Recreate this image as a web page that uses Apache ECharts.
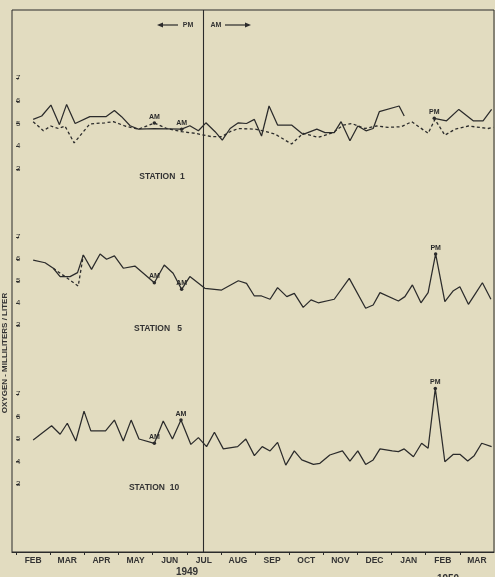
<!DOCTYPE html>
<html>
<head>
<meta charset="utf-8">
<title>Dissolved oxygen, stations 1, 5 and 10, 1949-1950</title>
<script src="https://cdn.jsdelivr.net/npm/echarts@6/dist/echarts.min.js"></script>
<style>
  html, body { margin: 0; padding: 0; background: #e2dcc0; }
  #chart { width: 495px; height: 577px; }
</style>
</head>
<body>
<div id="chart"></div>
<script>
// Month labels along the time axis (Feb 1949 .. Mar 1950); x is months since 1 Feb 1949
const monthLabels = ['FEB', 'MAR', 'APR', 'MAY', 'JUN', 'JUL', 'AUG', 'SEP', 'OCT', 'NOV', 'DEC', 'JAN', 'FEB', 'MAR'];
const yTicks = [3, 4, 5, 6, 7];
const shiftMonth = 5.47;   // sampling moved from afternoon (PM) to morning (AM)

// Station 1 — solid and dashed records, [month, ml O2 per litre]
const st1Solid = [
  [0.50, 5.18], [0.75, 5.33], [1.02, 5.81], [1.27, 4.95], [1.48, 5.84], [1.73, 5.00],
  [2.16, 5.30], [2.63, 5.30], [2.88, 5.57], [3.09, 5.30], [3.34, 4.90], [3.58, 4.75],
  [4.05, 4.78], [4.85, 4.75], [5.09, 4.90], [5.34, 4.68], [5.56, 5.03], [5.83, 4.64],
  [6.04, 4.27], [6.27, 4.78], [6.51, 5.03], [6.75, 5.00], [6.98, 5.18], [7.19, 4.45],
  [7.41, 5.77], [7.66, 4.93], [8.07, 4.93], [8.41, 4.52], [8.81, 4.75], [9.05, 4.60],
  [9.32, 4.60], [9.52, 5.08], [9.78, 4.24], [10.01, 4.89], [10.25, 4.68], [10.46, 4.78],
  [10.64, 5.52], [11.22, 5.77], [11.37, 5.33], [11.80, null],
  [12.25, 5.23], [12.61, 5.12], [12.97, 5.62], [13.39, 5.12], [13.68, 5.12], [13.93, 5.62]
];
const st1Dashed = [
  [0.50, 5.08], [0.80, 4.68], [1.02, 4.89], [1.24, 4.78], [1.43, 4.89], [1.70, 4.15],
  [2.16, 4.98], [2.60, 5.03], [2.85, 5.08], [3.19, 4.89], [3.58, 4.75], [4.05, 5.02],
  [4.41, 4.78], [4.85, 4.64], [5.24, 4.57], [5.73, 4.42], [6.02, 4.42], [6.27, 4.64],
  [6.51, 4.78], [7.00, 4.75], [7.24, 4.68], [7.58, 4.54], [8.07, 4.10], [8.41, 4.57],
  [8.85, 4.39], [9.29, 4.60], [9.58, 4.93], [9.83, 5.00], [10.22, 4.78], [10.56, 4.89],
  [10.90, 4.83], [11.29, 4.86], [11.59, 5.08], [12.07, 4.57], [12.27, 5.18], [12.56, 4.49],
  [12.86, 4.75], [13.25, 4.89], [13.83, 4.78], [13.98, 4.83]
];
const st1SolidNotes = [[4.85, 'AM'], [12.25, 'PM']];
const st1DashedNotes = [[4.05, 'AM']];

// Station 5
const st5Solid = [
  [0.50, 5.95], [0.85, 5.83], [1.09, 5.58], [1.29, 5.20], [1.58, 5.20], [1.80, 5.38],
  [1.97, 6.18], [2.21, 5.53], [2.46, 6.23], [2.65, 5.99], [2.88, 6.14], [3.14, 5.58],
  [3.48, 5.68], [4.05, 4.92], [4.34, 5.73], [4.60, 5.35], [4.85, 4.62], [5.09, 5.20],
  [5.53, 4.67], [6.02, 4.59], [6.51, 5.01], [6.75, 4.89], [6.98, 4.32], [7.19, 4.32],
  [7.44, 4.17], [7.66, 4.70], [7.93, 4.29], [8.15, 4.44], [8.41, 3.80], [8.64, 4.14],
  [8.85, 4.01], [9.32, 4.17], [9.76, 5.12], [10.24, 3.76], [10.46, 3.91], [10.66, 4.47],
  [11.20, 4.09], [11.39, 4.29], [11.61, 4.82], [11.86, 4.01], [12.07, 4.47], [12.29, 6.23],
  [12.56, 4.06], [12.81, 4.56], [13.00, 4.74], [13.25, 3.94], [13.46, 4.44], [13.66, 4.92],
  [13.91, 4.17]
];
const st5Dashed = [[1.09, 5.58], [1.82, 4.77], [1.97, 6.18]];
const st5SolidNotes = [[4.05, 'AM'], [4.85, 'AM'], [12.29, 'PM']];

// Station 10
const st10Solid = [
  [0.50, 4.96], [1.04, 5.59], [1.29, 5.21], [1.50, 5.70], [1.75, 4.91], [1.99, 6.24],
  [2.19, 5.36], [2.62, 5.36], [2.88, 5.84], [3.14, 4.91], [3.37, 5.84], [3.60, 5.00],
  [4.05, 4.81], [4.31, 5.80], [4.58, 5.00], [4.83, 5.84], [5.12, 4.76], [5.34, 5.06],
  [5.58, 4.66], [5.81, 5.30], [6.07, 4.56], [6.49, 4.66], [6.73, 5.00], [6.98, 4.26],
  [7.21, 4.66], [7.44, 4.47], [7.66, 4.85], [7.90, 3.84], [8.15, 4.47], [8.37, 4.07],
  [8.71, 3.87], [8.90, 3.92], [9.19, 4.29], [9.56, 4.47], [9.78, 4.02], [10.01, 4.47],
  [10.24, 3.87], [10.46, 4.07], [10.66, 4.56], [11.02, 4.47], [11.20, 4.44], [11.37, 4.56],
  [11.64, 4.21], [11.88, 4.81], [12.07, 4.59], [12.28, 7.25], [12.56, 3.99], [12.81, 4.32],
  [13.00, 4.32], [13.23, 4.02], [13.42, 4.26], [13.64, 4.81], [13.93, 4.66]
];
const st10SolidNotes = [[4.05, 'AM'], [4.83, 'AM'], [12.28, 'PM']];

const ink = '#2b2b2b';
const fontFamily = 'Liberation Sans, Arial, sans-serif';
const xMin = -0.12, xMax = 14;

// Station panels share the frame's horizontal extent; each has its own 3..7 scale
const panels = [
  { top: 78, height: 91, name: 'STATION  1', labelX: 162, labelY: 177 },
  { top: 237, height: 88, name: 'STATION   5', labelX: 158, labelY: 329 },
  { top: 394, height: 90, name: 'STATION  10', labelX: 154, labelY: 488 }
];

function annotate(points, notes) {
  return points.map(function (p) {
    const note = notes.find(function (n) { return n[0] === p[0]; });
    if (!note || p[1] == null) return p;
    return {
      value: p,
      symbol: 'circle',
      symbolSize: 3.5,
      itemStyle: { color: ink },
      label: {
        show: true, formatter: note[1], position: 'top', distance: 1,
        color: ink, fontSize: 7, fontWeight: 'bold', fontFamily: fontFamily
      }
    };
  });
}

function lineSeries(idx, data, dashed) {
  return {
    type: 'line',
    xAxisIndex: idx, yAxisIndex: idx,
    data: data,
    symbol: 'none',
    showSymbol: true,
    clip: false,
    silent: true,
    animation: false,
    lineStyle: { color: ink, width: dashed ? 1.3 : 1.25, type: dashed ? [3, 2.5] : 'solid' },
    itemStyle: { color: ink },
    z: dashed ? 3 : 4
  };
}

const grids = [{ left: 12, top: 10, width: 482, height: 542, show: true, borderColor: ink, borderWidth: 1, backgroundColor: 'transparent' }];
const xAxes = [{
  gridIndex: 0, type: 'value', min: xMin, max: xMax,
  axisLine: { show: true, lineStyle: { color: ink, width: 1.2 } },
  axisTick: { show: true, length: 3, lineStyle: { color: ink }, customValues: monthLabels.map(function (_, i) { return i; }) },
  axisLabel: {
    show: true, margin: 4, color: '#333', fontSize: 8.5, fontWeight: 'bold', fontFamily: fontFamily,
    customValues: monthLabels.map(function (_, i) { return i + 0.5; }),
    formatter: function (v) { return monthLabels[Math.floor(v)] || ''; }
  },
  splitLine: { show: false }
}];
const yAxes = [{ gridIndex: 0, type: 'value', min: 0, max: 1, show: false }];

panels.forEach(function (p, i) {
  grids.push({ left: 12, width: 482, top: p.top, height: p.height, show: false });
  xAxes.push({ gridIndex: i + 1, type: 'value', min: xMin, max: xMax, show: false });
  yAxes.push({
    gridIndex: i + 1, type: 'value', min: yTicks[0], max: yTicks[yTicks.length - 1], interval: 1,
    axisLine: { show: false },
    axisTick: { show: true, inside: true, length: 3, lineStyle: { color: ink } },
    axisLabel: { show: true, inside: true, margin: 4, color: '#333', fontSize: 8, fontFamily: fontFamily },
    splitLine: { show: false }
  });
});

const series = [
  {
    type: 'line', xAxisIndex: 0, yAxisIndex: 0, data: [], silent: true, animation: false,
    markLine: {
      silent: true, symbol: 'none', animation: false,
      label: { show: false },
      lineStyle: { color: ink, width: 1.1, type: 'solid' },
      data: [{ xAxis: shiftMonth }]
    }
  },
  lineSeries(1, annotate(st1Dashed, st1DashedNotes), true),
  lineSeries(1, annotate(st1Solid, st1SolidNotes), false),
  lineSeries(2, st5Dashed, true),
  lineSeries(2, annotate(st5Solid, st5SolidNotes), false),
  lineSeries(3, annotate(st10Solid, st10SolidNotes), false)
];

const textStyle = { fill: '#333', fontFamily: fontFamily, fontWeight: 'bold' };
const graphic = [];
panels.forEach(function (p) {
  graphic.push({ type: 'text', x: p.labelX, y: p.labelY, style: Object.assign({ text: p.name, fontSize: 8.5, align: 'center', verticalAlign: 'middle' }, textStyle) });
});
graphic.push(
  { type: 'text', x: 5, y: 353, rotation: Math.PI / 2, style: Object.assign({ text: 'OXYGEN - MILLILITERS / LITER', fontSize: 8, align: 'center', verticalAlign: 'middle' }, textStyle) },
  { type: 'text', x: 187, y: 572, style: Object.assign({ text: '1949', fontSize: 10, align: 'center', verticalAlign: 'middle' }, textStyle) },
  { type: 'text', x: 448, y: 579, style: Object.assign({ text: '1950', fontSize: 10, align: 'center', verticalAlign: 'middle' }, textStyle) },
  // afternoon / morning sampling arrows
  { type: 'line', shape: { x1: 160, y1: 25, x2: 178, y2: 25 }, style: { stroke: ink, lineWidth: 1.2 } },
  { type: 'polygon', shape: { points: [[157, 25], [163, 22.5], [163, 27.5]] }, style: { fill: ink } },
  { type: 'text', x: 188, y: 25, style: Object.assign({ text: 'PM', fontSize: 7, align: 'center', verticalAlign: 'middle' }, textStyle) },
  { type: 'text', x: 216, y: 25, style: Object.assign({ text: 'AM', fontSize: 7, align: 'center', verticalAlign: 'middle' }, textStyle) },
  { type: 'line', shape: { x1: 225, y1: 25, x2: 247, y2: 25 }, style: { stroke: ink, lineWidth: 1.2 } },
  { type: 'polygon', shape: { points: [[251, 25], [245, 22.5], [245, 27.5]] }, style: { fill: ink } }
);

const chart = echarts.init(document.getElementById('chart'), null, { renderer: 'canvas' });
chart.setOption({
  backgroundColor: '#e2dcc0',
  animation: false,
  grid: grids,
  xAxis: xAxes,
  yAxis: yAxes,
  series: series,
  graphic: graphic
});
</script>
</body>
</html>
